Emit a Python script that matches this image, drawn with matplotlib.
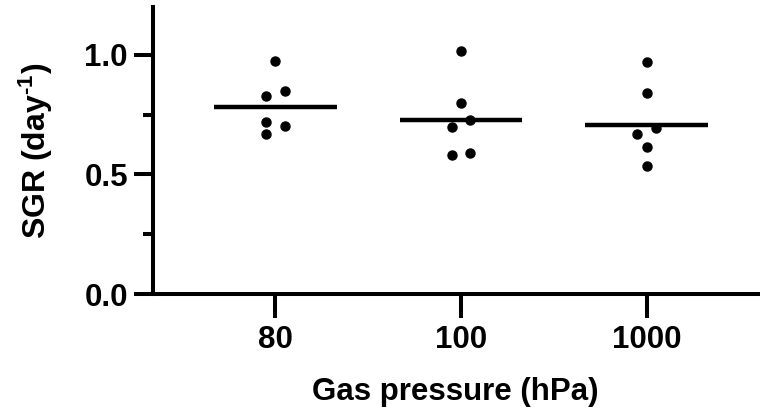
import matplotlib
matplotlib.use("Agg")
import matplotlib.pyplot as plt
from matplotlib.ticker import MultipleLocator

plt.rcParams['font.family'] = ['Liberation Sans', 'DejaVu Sans']
plt.rcParams['font.weight'] = 'bold'
plt.rcParams['mathtext.fontset'] = 'custom'
plt.rcParams['mathtext.rm'] = 'Liberation Sans:bold'
plt.rcParams['mathtext.default'] = 'rm'

# Specific growth rate per replicate at each gas pressure
categories = ["80", "100", "1000"]
sgr_80 = [0.976, 0.828, 0.849, 0.719, 0.671, 0.702]
sgr_100 = [1.016, 0.797, 0.727, 0.699, 0.582, 0.589]
sgr_1000 = [0.972, 0.840, 0.695, 0.671, 0.615, 0.537]
group_means = [0.783, 0.727, 0.707]

# horizontal scatter offsets so overlapping replicates stay visible
jitter_80 = [0.0, -0.05, 0.05, -0.05, -0.05, 0.05]
jitter_100 = [0.0, 0.0, 0.05, -0.05, -0.05, 0.05]
jitter_1000 = [0.0, 0.0, 0.05, -0.05, 0.0, 0.0]

series = [sgr_80, sgr_100, sgr_1000]
jitters = [jitter_80, jitter_100, jitter_1000]

fig = plt.figure(figsize=(7.6, 4.12), dpi=100)
ax = fig.add_axes([153 / 760, (412 - 294) / 412, (758 - 153) / 760, (294 - 7) / 412])

for i, (vals, jit) in enumerate(zip(series, jitters)):
    xs = [i + j for j in jit]
    ax.plot(xs, vals, 'o', color='black', markersize=6.5, zorder=3, clip_on=False)
    ax.plot([i - 0.33, i + 0.33], [group_means[i], group_means[i]],
            color='black', lw=3.2, solid_capstyle='butt', zorder=2)

ax.set_xlim(-0.66, 2.6)
ax.set_ylim(0, 1.2)
ax.set_xticks(range(len(categories)))
ax.set_xticklabels(categories)
ax.yaxis.set_minor_locator(MultipleLocator(0.25))
ax.set_yticks([0.0, 0.5, 1.0])
ax.set_yticklabels(["0.0", "0.5", "1.0"])

for side in ['top', 'right']:
    ax.spines[side].set_visible(False)
for side in ['left', 'bottom']:
    ax.spines[side].set_linewidth(2.9)

ax.tick_params(axis='both', which='major', width=2.9, length=14, labelsize=22.5, pad=4)
ax.tick_params(axis='y', which='minor', width=2.9, length=7)
ax.tick_params(axis='x', which='major', length=17, pad=5)

ax.set_xlabel("Gas pressure (hPa)", fontsize=22.5, fontweight='bold', labelpad=16)
ax.set_ylabel(r"SGR (day$^{\text{-1}}$)", fontsize=23, fontweight='bold', labelpad=21)

fig.savefig("out.png", dpi=100)
